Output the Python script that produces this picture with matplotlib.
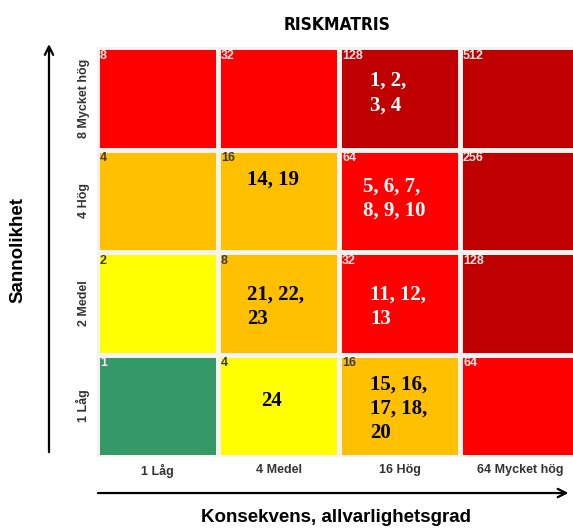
import matplotlib
matplotlib.use('Agg')
import matplotlib.pyplot as plt
import numpy as np
from matplotlib.colors import ListedColormap

# data
konsekvens = ['1 Låg', '4 Medel', '16 Hög', '64 Mycket hög']
sannolikhet = ['1 Låg', '2 Medel', '4 Hög', '8 Mycket hög']   # bottom -> top
# risk score per cell (rows bottom -> top)
scores = [[1, 4, 16, 64],
          [2, 8, 32, 128],
          [4, 16, 64, 256],
          [8, 32, 128, 512]]
# colour level per cell: 0 green, 1 yellow, 2 orange, 3 red, 4 dark red
levels = [[0, 1, 2, 3],
          [1, 2, 3, 4],
          [2, 2, 3, 4],
          [3, 3, 4, 4]]
# risk ids placed in cells: (col, row, text)
risks = [(2, 3, '1, 2,\n3, 4'),
         (1, 2, '14, 19'),
         (2, 2, '5, 6, 7,\n8, 9, 10'),
         (1, 1, '21, 22,\n23'),
         (2, 1, '11, 12,\n13'),
         (1, 0, '24'),
         (2, 0, '15, 16,\n17, 18,\n20')]

level_colors = ['#339966', '#ffff00', '#ffc000', '#ff0000', '#c00000']
light_text = [True, False, False, True, True]
# where each risk text starts inside its cell (x from left, y from bottom)
risk_offsets = [(0.26, 0.55), (0.24, 0.71), (0.20, 0.52), (0.24, 0.465),
                (0.26, 0.465), (0.355, 0.55), (0.26, 0.47)]

plt.rcParams['font.family'] = ['Liberation Sans', 'DejaVu Sans']

fig = plt.figure(figsize=(5.73, 5.29), dpi=100)
ax = fig.add_axes([97/573, 72/529, 484/573, 410/529])

lv = np.array(levels)
ax.pcolormesh(np.arange(5), np.arange(5), lv, cmap=ListedColormap(level_colors),
              vmin=-0.5, vmax=4.5, edgecolors='#f6f2f0', linewidth=2.2)
ax.set_xlim(0, 4)
ax.set_ylim(0, 4)

# score number in the top left corner of each cell
for r in range(4):
    for c in range(4):
        lvl = levels[r][c]
        col = '#fbe6e6' if light_text[lvl] else '#3a3a3a'
        ax.text(c + 0.025, r + 0.975, str(scores[r][c]), ha='left', va='top',
                fontsize=9, fontweight='bold', color=col)

# risk ids
for (c, r, txt), (dx, dy) in zip(risks, risk_offsets):
    lvl = levels[r][c]
    col = 'white' if light_text[lvl] else 'black'
    ax.text(c + dx, r + dy, txt, ha='left', va='center', fontsize=15,
            fontweight='bold', color=col, family='Liberation Serif',
            linespacing=1.3)

ax.set_xticks(np.arange(4) + 0.5)
ax.set_xticklabels(konsekvens, fontsize=9, fontweight='bold', color='#333333')
ax.set_yticks(np.arange(4) + 0.5)
ax.set_yticklabels(sannolikhet, fontsize=9, fontweight='bold', color='#333333',
                   rotation=90, va='center')
ax.tick_params(length=0, pad=5)
for s in ax.spines.values():
    s.set_visible(False)

# title and axis arrows
fig.text(0.589, 0.953, 'RISKMATRIS', ha='center', va='center', fontsize=12.5,
         fontweight='bold', family='DejaVu Sans', fontstretch='condensed')
fig.text(0.031, 0.527, 'Sannolikhet', rotation=90, ha='center', va='center',
         fontsize=13.5, fontweight='bold')
fig.text(0.587, 0.021, 'Konsekvens, allvarlighetsgrad', ha='center', va='center',
         fontsize=13.5, fontweight='bold')

fig.add_artist(matplotlib.patches.FancyArrowPatch(
    (0.0855, 0.140), (0.0855, 0.922), transform=fig.transFigure,
    arrowstyle='->,head_length=6,head_width=3', color='black', lw=1.6))
fig.add_artist(matplotlib.patches.FancyArrowPatch(
    (0.166, 0.068), (0.997, 0.068), transform=fig.transFigure,
    arrowstyle='->,head_length=6,head_width=3', color='black', lw=1.6))

fig.savefig('out.png', dpi=100)
